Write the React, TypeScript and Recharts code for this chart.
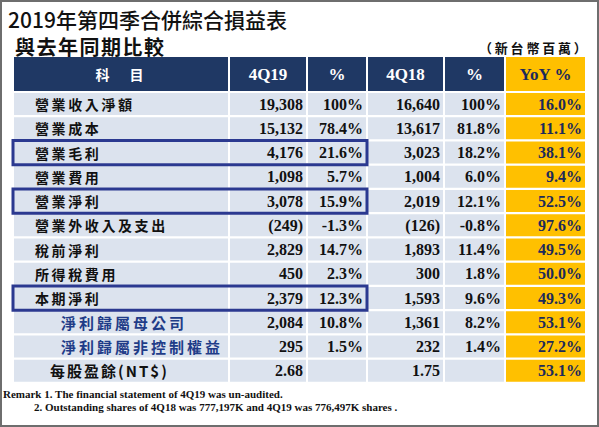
import { Bar, BarChart, ReferenceArea, XAxis, YAxis } from "recharts";

// 4Q19 vs 4Q18 consolidated income statement (NT$ millions)
const items = [
  "營業收入淨額",
  "營業成本",
  "營業毛利",
  "營業費用",
  "營業淨利",
  "營業外收入及支出",
  "稅前淨利",
  "所得稅費用",
  "本期淨利",
  "淨利歸屬母公司",
  "淨利歸屬非控制權益",
  "每股盈餘(NT$)",
];
const q19 = [19308, 15132, 4176, 1098, 3078, -249, 2829, 450, 2379, 2084, 295, 2.68];
const q19Pct = [100, 78.4, 21.6, 5.7, 15.9, -1.3, 14.7, 2.3, 12.3, 10.8, 1.5, null];
const q18 = [16640, 13617, 3023, 1004, 2019, -126, 1893, 300, 1593, 1361, 232, 1.75];
const q18Pct = [100, 81.8, 18.2, 6.0, 12.1, -0.8, 11.4, 1.8, 9.6, 8.2, 1.4, null];
const yoy = [16.0, 11.1, 38.1, 9.4, 52.5, 97.6, 49.5, 50.0, 49.3, 53.1, 27.2, 53.1];

const headers = ["科　目", "4Q19", "%", "4Q18", "%", "YoY %"];
const boxed = ["營業毛利", "營業淨利", "本期淨利"];
const subItems = ["淨利歸屬母公司", "淨利歸屬非控制權益"];
const remarks = [
  "Remark 1. The financial statement of 4Q19 was un-audited.",
  "2. Outstanding shares of 4Q18 was 777,197K and 4Q19 was 776,497K shares .",
];

const rows = items.map((item, i) => ({
  item,
  q19: q19[i],
  q19Pct: q19Pct[i],
  q18: q18[i],
  q18Pct: q18Pct[i],
  yoy: yoy[i],
}));

// table column layout (x axis runs in pixel-like units)
const COLS = [
  { key: "item", w: 216 },
  { key: "q19", w: 78 },
  { key: "q19Pct", w: 60 },
  { key: "q18", w: 77 },
  { key: "q18Pct", w: 61 },
  { key: "yoy", w: 81 },
];
const TABLE_W = COLS.reduce((s, c) => s + c.w, 0);
const colStart = COLS.map((_, i) => COLS.slice(0, i).reduce((s, c) => s + c.w, 0));
const colCenters = COLS.map((c, i) => colStart[i] + c.w / 2);
const boxEnd = colStart[3];

const NAVY = "#1f3864";
const CELL = "#dce3ee";
const GOLD = "#ffc000";
const SERIF = "'Liberation Serif', 'Times New Roman', serif";
const CJK = "'Noto Sans CJK TC', 'Noto Sans', sans-serif";

const fmtNum = (v: number | null) => {
  if (v == null) return "";
  if (!Number.isInteger(v)) return v.toFixed(2);
  if (v < 0) return `(${Math.abs(v).toLocaleString("en-US")})`;
  return v.toLocaleString("en-US");
};
const fmtPct = (v: number | null) => {
  if (v == null) return "";
  return v === 100 ? "100%" : `${v.toFixed(1)}%`;
};

function HeaderTick(props: any) {
  const { x, index } = props;
  const w = COLS[index].w;
  const gold = index === 5;
  const isCjk = index === 0;
  return (
    <g>
      <rect x={x - w / 2 + 1} y={57} width={w - 2} height={34} fill={gold ? GOLD : NAVY} />
      <text
        x={x}
        y={74}
        textAnchor="middle"
        dominantBaseline="central"
        fill={gold ? "#1c2a5a" : "#fff"}
        fontFamily={isCjk ? CJK : SERIF}
        fontWeight={700}
        fontSize={isCjk ? 14 : 17}
        letterSpacing={isCjk ? 3 : 0}
      >
        {headers[index]}
      </text>
    </g>
  );
}

function makeCell(colIdx: number) {
  return (props: any) => {
    const { x, y, width, height, payload } = props;
    const key = COLS[colIdx].key;
    const gold = colIdx === 5;
    const cy = y + height / 2;
    let content = null;
    if (colIdx === 0) {
      const item: string = payload.item;
      const sub = subItems.includes(item);
      const eps = item.startsWith("每股");
      content = (
        <text
          x={x + (sub ? 48 : eps ? 37 : 22)}
          y={cy}
          dominantBaseline="central"
          fill={sub ? "#1f3c88" : "#111"}
          fontFamily={CJK}
          fontWeight={700}
          fontSize={sub || eps ? 15 : 14}
          letterSpacing={sub ? 3 : eps ? 2 : 2.6}
        >
          {item}
        </text>
      );
    } else {
      const v = payload[key];
      const txt = key === "q19" || key === "q18" ? fmtNum(v) : fmtPct(v);
      content = (
        <text
          x={x + width - 4}
          y={cy}
          textAnchor="end"
          dominantBaseline="central"
          fill={gold ? "#1c2a5a" : "#111"}
          fontFamily={SERIF}
          fontWeight={700}
          fontSize={16}
        >
          {txt}
        </text>
      );
    }
    return (
      <g>
        <rect x={x + 1} y={y} width={width - 2} height={height} fill={gold ? GOLD : CELL} />
        {content}
      </g>
    );
  };
}

export default function App() {
  return (
    <div
      style={{
        position: "absolute",
        left: 0,
        top: 0,
        width: 599,
        height: 427,
        boxSizing: "border-box",
        border: "2px solid #6e6e6e",
        background: "#fff",
        overflow: "hidden",
      }}
    >
      <div style={{ position: "absolute", left: -2, top: -2 }}>
        <BarChart
          layout="vertical"
          width={599}
          height={427}
          data={rows}
          margin={{ top: 57, right: 13, bottom: 44, left: 13 }}
          barCategoryGap={1}
        >
          <XAxis
            type="number"
            orientation="top"
            domain={[0, TABLE_W]}
            ticks={colCenters}
            interval={0}
            height={35}
            axisLine={false}
            tickLine={false}
            tick={<HeaderTick />}
          />
          <YAxis type="category" dataKey="item" hide />
          {COLS.map((c, i) => (
            <Bar
              key={c.key}
              dataKey={() => c.w}
              stackId="row"
              shape={makeCell(i)}
              isAnimationActive={false}
            />
          ))}
          {boxed.map((b) => (
            <ReferenceArea
              key={b}
              y1={b}
              y2={b}
              x1={0}
              x2={boxEnd}
              fill="none"
              fillOpacity={0}
              stroke="#2b3990"
              strokeWidth={3}
              zIndex={1000}
            />
          ))}
        </BarChart>
        <div
          style={{
            position: "absolute",
            left: 8,
            top: 4,
            fontFamily: CJK,
            fontSize: 21,
            fontWeight: 500,
            color: "#111",
            whiteSpace: "nowrap",
          }}
        >
          2019年第四季合併綜合損益表
        </div>
        <div
          style={{
            position: "absolute",
            left: 15,
            top: 32,
            fontFamily: CJK,
            fontSize: 20,
            fontWeight: 700,
            letterSpacing: 1.5,
            color: "#111",
            whiteSpace: "nowrap",
          }}
        >
          與去年同期比較
        </div>
        <div
          style={{
            position: "absolute",
            left: 479,
            top: 38,
            fontFamily: CJK,
            fontSize: 13,
            fontWeight: 700,
            letterSpacing: 2.8,
            color: "#111",
            whiteSpace: "nowrap",
          }}
        >
          （新台幣百萬）
        </div>
        {remarks.map((r, i) => (
          <div
            key={i}
            style={{
              position: "absolute",
              left: i === 0 ? 3 : 34,
              top: 388 + i * 13,
              fontFamily: SERIF,
              fontSize: 11,
              fontWeight: 700,
              lineHeight: "13px",
              color: "#111",
              whiteSpace: "nowrap",
            }}
          >
            {r}
          </div>
        ))}
      </div>
    </div>
  );
}
